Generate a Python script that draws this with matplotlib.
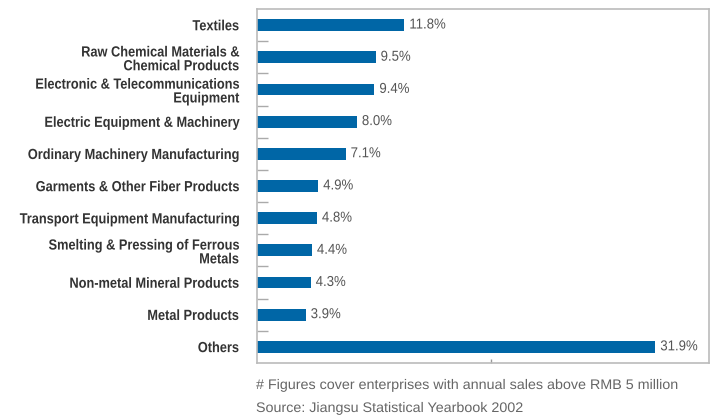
import matplotlib
matplotlib.use("Agg")
import matplotlib.pyplot as plt
from matplotlib.ticker import FixedLocator
from matplotlib.patheffects import AbstractPathEffect
from matplotlib.transforms import Affine2D

categories = [
    "Textiles",
    "Raw Chemical Materials &\nChemical Products",
    "Electronic & Telecommunications\nEquipment",
    "Electric Equipment & Machinery",
    "Ordinary Machinery Manufacturing",
    "Garments & Other Fiber Products",
    "Transport Equipment Manufacturing",
    "Smelting & Pressing of Ferrous\nMetals",
    "Non-metal Mineral Products",
    "Metal Products",
    "Others",
]
shares = [11.8, 9.5, 9.4, 8.0, 7.1, 4.9, 4.8, 4.4, 4.3, 3.9, 31.9]
value_labels = ["11.8%", "9.5%", "9.4%", "8.0%", "7.1%", "4.9%", "4.8%",
                "4.4%", "4.3%", "3.9%", "31.9%"]
notes = ["# Figures cover enterprises with annual sales above RMB 5 million",
         "Source: Jiangsu Statistical Yearbook 2002"]

DPI = 100


class Stretch(AbstractPathEffect):
    """Scale each text line: x about its left/right edge, y about mid-cap height."""

    def __init__(self, sx=1.0, sy=1.0, side="left", fontsize=10):
        super().__init__()
        self.sx = sx
        self.sy = sy
        self.side = side
        self.mid = 0.729 * fontsize * DPI / 72 / 2

    def draw_path(self, renderer, gc, tpath, affine, rgbFace=None):
        ext = tpath.get_extents(affine)
        x0 = ext.x1 if self.side == "right" else ext.x0
        y0 = affine.get_matrix()[1, 2] + self.mid
        t = affine + (Affine2D().translate(-x0, -y0)
                      .scale(self.sx, self.sy).translate(x0, y0))
        renderer.draw_path(gc, tpath, t, rgbFace)


W, H = 716, 417
fig = plt.figure(figsize=(W / DPI, H / DPI), dpi=DPI)
ax = fig.add_axes([257 / W, 1 - 363 / H, (709 - 257) / W, (363 - 9) / H])

bar_color = "#0066a6"
pos = list(range(len(categories)))
ax.barh(pos, shares, height=0.37, color=bar_color, left=0)
ax.set_ylim(len(categories) - 0.5, -0.5)
ax.set_xlim(0, 36.2)

val_fs = 9.5
for p, v, t in zip(pos, shares, value_labels):
    ax.text(v + 0.4, p, t, va="center", ha="left", fontsize=val_fs,
            color="#555555", family="Liberation Sans",
            path_effects=[Stretch(1.0, 1.09, "left", val_fs)])

cat_fs = 9.2
ax.set_yticks(pos)
ax.set_yticklabels(categories, fontsize=cat_fs, fontweight="bold",
                   color="#333333", family="Liberation Sans", linespacing=1.2)
for lbl in ax.get_yticklabels():
    lbl.set_path_effects([Stretch(1.0, 1.15, "right", cat_fs)])
ax.tick_params(axis="y", which="major", length=0, pad=13)
ax.yaxis.set_minor_locator(FixedLocator([p + 0.5 for p in pos[:-1]]))
ax.tick_params(axis="y", which="minor", direction="in", length=8,
               color="#aaaaaa", width=1)

ax.set_xticks([18.75])
ax.set_xticklabels([])
ax.tick_params(axis="x", which="major", direction="in", length=3,
               color="#999999", width=1)

for s in ax.spines.values():
    s.set_color("#bbbbbb")
    s.set_linewidth(1.2)

note_fs = 10
fig.text(256 / W, 1 - 385 / H, notes[0], fontsize=note_fs, color="#666666",
         va="center", ha="left", family="Liberation Sans",
         path_effects=[Stretch(1.03, 1.0, "left", note_fs)])
fig.text(256 / W, 1 - 408 / H, notes[1], fontsize=note_fs, color="#666666",
         va="center", ha="left", family="Liberation Sans",
         path_effects=[Stretch(1.03, 1.0, "left", note_fs)])

fig.savefig("out.png", dpi=DPI)
